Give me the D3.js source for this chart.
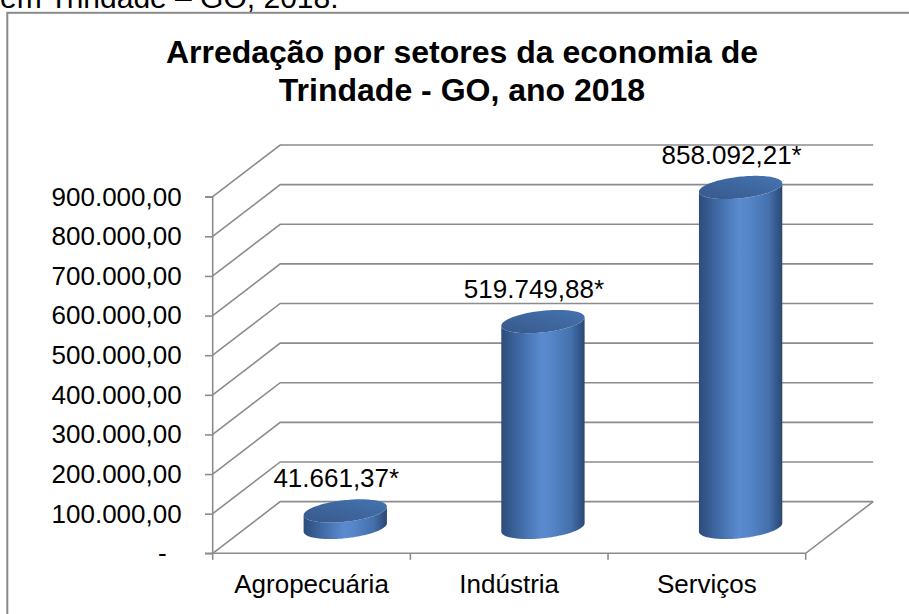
<!DOCTYPE html>
<html>
<head>
<meta charset="utf-8">
<script src="https://cdn.jsdelivr.net/npm/d3@7"></script>
<style>
  html, body { margin: 0; padding: 0; background: #fff; overflow: hidden; }
  svg { display: block; font-family: Arial, "Liberation Sans", sans-serif; }
</style>
</head>
<body>
<svg id="chart" width="909" height="614"></svg>
<script>
// Arrecadação por setor — Trindade (GO), 2018
const categories = ["Agropecuária", "Indústria", "Serviços"];
const values = [41661.37, 519749.88, 858092.21];
const yTicks = [0, 100000, 200000, 300000, 400000, 500000, 600000, 700000, 800000, 900000];
const titleLines = ["Arredação por setores da economia de", "Trindade - GO, ano 2018"];
const captionAbove = "em Trindade – GO, 2018.";

const svg = d3.select("#chart");

// Brazilian number format: 900.000,00
const br = d3.formatLocale({ decimal: ",", thousands: ".", grouping: [3], currency: ["", ""] });
const fmt = br.format(",.2f");

// front plane of the 3-D plot
const plot = { left: 212.7, right: 805.7, top: 196.7, bottom: 553.3 };
// oblique depth offset of the back wall
const DX = 67.5, DY = -51.7;

const x = d3.scaleBand().domain(categories).range([plot.left, plot.right]).paddingInner(0).paddingOuter(0);
const y = d3.scaleLinear().domain([0, 900000]).range([plot.bottom, plot.top]);

const grid = "#8c8c8c";

// caption line of the surrounding document, clipped by the page top
svg.append("text")
  .attr("x", 0).attr("y", 7.5)
  .attr("font-size", 30)
  .attr("fill", "#000")
  .text(captionAbove);

// chart frame
svg.append("rect")
  .attr("x", 7.3).attr("y", 12.8)
  .attr("width", 940).attr("height", 640)
  .attr("fill", "#fff")
  .attr("stroke", "#8a8a8a")
  .attr("stroke-width", 2);

// title
svg.append("text")
  .attr("text-anchor", "middle")
  .attr("font-size", 32)
  .attr("font-weight", "bold")
  .attr("fill", "#000")
  .selectAll("tspan")
  .data(titleLines)
  .join("tspan")
  .attr("x", 462)
  .attr("y", (d, i) => 63 + i * 38)
  .text(d => d);

// back wall gridlines (one per tick): diagonal side + horizontal back line
const gridG = svg.append("g").attr("fill", "none").attr("stroke", grid).attr("stroke-width", 1.6);
gridG.selectAll("path.grid")
  .data(yTicks)
  .join("path")
  .attr("class", "grid")
  .attr("d", v => {
    const yy = y(v);
    return `M${plot.left},${yy}L${plot.left + DX},${yy + DY}L${plot.right + DX},${yy + DY}`;
  });

// floor: front edge and right edge
gridG.append("path")
  .attr("d", `M${plot.left},${y(0)}L${plot.right},${y(0)}L${plot.right + DX},${y(0) + DY}`);

// value axis
const yAxis = d3.axisLeft(y)
  .tickValues(yTicks)
  .tickSize(7.7)
  .tickPadding(23.3)
  .tickFormat(v => v === 0 ? "-" : fmt(v));
const yAxisG = svg.append("g")
  .attr("transform", `translate(${plot.left},0)`)
  .call(yAxis);
yAxisG.select(".domain").attr("stroke", grid).attr("stroke-width", 1.6)
  .attr("d", `M-7.7,${plot.top}H0V${plot.bottom}H-7.7`);
yAxisG.selectAll(".tick line").attr("stroke", grid).attr("stroke-width", 1.6);
yAxisG.selectAll(".tick text")
  .attr("font-size", 26)
  .attr("fill", "#000")
  .attr("font-family", "Arial, 'Liberation Sans', sans-serif")
  .attr("dx", v => v === 0 ? -15 : 0);

// category axis: boundary ticks plus centred labels
const bounds = categories.map(c => x(c)).concat([x(categories[categories.length - 1]) + x.bandwidth()]);
svg.append("g")
  .selectAll("line")
  .data(bounds)
  .join("line")
  .attr("x1", d => d).attr("x2", d => d)
  .attr("y1", y(0)).attr("y2", y(0) + 6.5)
  .attr("stroke", grid).attr("stroke-width", 1.6);

const xAxisG = svg.append("g")
  .attr("transform", `translate(0,${y(0)})`)
  .call(d3.axisBottom(x).tickSize(0).tickPadding(20.9));
xAxisG.select(".domain").remove();
xAxisG.selectAll(".tick text")
  .attr("font-size", 26)
  .attr("fill", "#000")
  .attr("font-family", "Arial, 'Liberation Sans', sans-serif");

// cylinder shading
const defs = svg.append("defs");
const sideGrad = defs.append("linearGradient").attr("id", "cylSide")
  .attr("x1", "0").attr("x2", "1").attr("y1", "0").attr("y2", "0");
[["0%", "#2c4c7b"], ["18%", "#3c649e"], ["48%", "#5a8bcf"], ["60%", "#5686c9"], ["84%", "#4470ab"], ["100%", "#2a4774"]]
  .forEach(([o, c]) => sideGrad.append("stop").attr("offset", o).attr("stop-color", c));
const capGrad = defs.append("linearGradient").attr("id", "cylTop")
  .attr("x1", "0").attr("x2", "1").attr("y1", "1").attr("y2", "0");
[["0%", "#37598c"], ["100%", "#4573b0"]]
  .forEach(([o, c]) => capGrad.append("stop").attr("offset", o).attr("stop-color", c));

// cylinder geometry: circle of radius r across, depth half-size k of full depth
const depthMid = 0.5, k = 0.225, r = 38.8;
const a = k * DX, b = -k * DY;
const th0 = Math.atan2(a, r);

function ellipsePt(cx, cy, t) {
  return [cx + r * Math.cos(t) + a * Math.sin(t), cy - b * Math.sin(t)];
}
function arc(cx, cy, t1, t2, n) {
  return d3.range(n + 1).map(i => ellipsePt(cx, cy, t1 + (t2 - t1) * i / n));
}
const line = d3.line();

const bars = svg.append("g")
  .selectAll("g")
  .data(categories.map((c, i) => ({ c, v: values[i] })))
  .join("g");

bars.each(function (d) {
  const g = d3.select(this);
  const cx = x(d.c) + x.bandwidth() / 2 + depthMid * DX;
  const yTopC = y(d.v) + depthMid * DY;
  const yBotC = y(0) + depthMid * DY;
  const topFront = arc(cx, yTopC, th0 + Math.PI, th0 + 2 * Math.PI, 60);
  const botFront = arc(cx, yBotC, th0 + 2 * Math.PI, th0 + Math.PI, 60);
  g.append("path")
    .attr("d", line(topFront.concat(botFront)) + "Z")
    .attr("fill", "url(#cylSide)");
  g.append("path")
    .attr("d", line(arc(cx, yTopC, 0, 2 * Math.PI, 120)) + "Z")
    .attr("fill", "url(#cylTop)");
  g.append("text")
    .attr("x", cx - 9)
    .attr("y", yTopC - 23.5)
    .attr("text-anchor", "middle")
    .attr("font-size", 26)
    .attr("fill", "#000")
    .text(fmt(d.v) + "*");
});
</script>
</body>
</html>
